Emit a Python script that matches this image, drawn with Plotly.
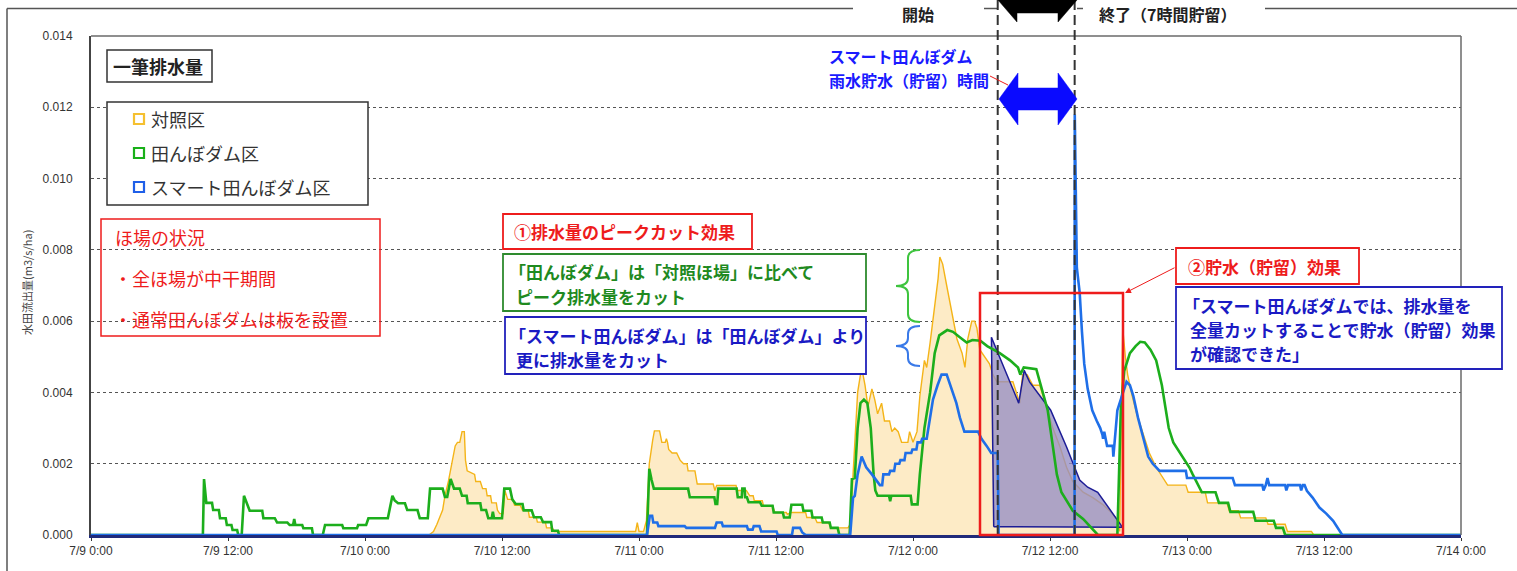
import plotly.graph_objects as go

# ---------------- data (hours from 7/9 0:00, discharge m3/s/ha) ----------------
x_tick_hours = [0, 12, 24, 36, 48, 60, 72, 84, 96, 108, 120]
x_tick_labels = ["7/9 0:00", "7/9 12:00", "7/10 0:00", "7/10 12:00", "7/11 0:00", "7/11 12:00",
                 "7/12 0:00", "7/12 12:00", "7/13 0:00", "7/13 12:00", "7/14 0:00"]
y_tick_vals = [0.000, 0.002, 0.004, 0.006, 0.008, 0.010, 0.012, 0.014]
y_tick_labels = ["0.000", "0.002", "0.004", "0.006", "0.008", "0.010", "0.012", "0.014"]

series_names = ["対照区", "田んぼダム区", "スマート田んぼダム区"]

control_points = [
    (0, 0), (29.6, 0), (30.0, 0.0001), (30.3, 0.0003), (30.8, 0.0007), (31.0, 0.0011), (31.3, 0.0015),
    (31.6, 0.002), (31.9, 0.0025), (32.1, 0.0026), (32.3, 0.0026), (32.5, 0.0029), (32.7, 0.0029),
    (32.8, 0.0021), (32.95, 0.0018), (33.6, 0.0017), (33.7, 0.0015), (34.1, 0.0015), (34.3, 0.0013),
    (34.6, 0.0013), (34.7, 0.0011), (35.0, 0.0011), (35.1, 0.0009), (35.5, 0.0009), (35.6, 0.0007),
    (35.8, 0.0006), (36.1, 0.0006), (36.25, 0.00125), (36.5, 0.001), (36.95, 0.001), (37.1, 0.00083),
    (37.6, 0.00083), (37.8, 0.00069), (38.3, 0.00069), (38.4, 0.0005), (39.0, 0.0005), (39.1, 0.00036),
    (39.8, 0.00036), (39.9, 0.0002), (40.4, 0.0002), (40.6, 0.0001), (47.7, 0.0001), (47.85, 0.00035),
    (48.0, 0.0001), (48.4, 0.0001), (48.65, 0.0004), (48.9, 0.002), (49.2, 0.00266), (49.35, 0.00292),
    (49.8, 0.00292), (50.0, 0.0026), (50.3, 0.0026), (50.4, 0.0027), (50.5, 0.0026), (50.6, 0.0024),
    (50.9, 0.0023), (51.3, 0.0023), (51.6, 0.0021), (51.9, 0.002), (52.2, 0.002), (52.3, 0.0018),
    (52.9, 0.0018), (53.1, 0.00143), (54.5, 0.00143), (54.65, 0.00125), (54.8, 0.00139), (56.5, 0.00139),
    (56.6, 0.00125), (57.4, 0.00125), (57.7, 0.0011), (58.0, 0.0011), (58.1, 0.00096), (58.8, 0.00096),
    (58.9, 0.00082), (59.7, 0.00082), (59.9, 0.00063), (60.9, 0.00063), (61.0, 0.00058), (61.3, 0.00063),
    (62.6, 0.00063), (62.7, 0.00049), (63.4, 0.00049), (63.6, 0.00035), (64.6, 0.00035), (64.8, 0.0002),
    (66.3, 0.0002), (66.5, 0.0003), (66.75, 0.0017), (67.15, 0.004), (67.5, 0.0047), (67.8, 0.0042),
    (68.05, 0.0036), (68.4, 0.0041), (68.65, 0.0038), (68.9, 0.0034), (69.25, 0.0037), (69.5, 0.0032),
    (69.95, 0.0032), (70.15, 0.0029), (70.4, 0.003), (70.7, 0.0029), (71.0, 0.0026), (71.55, 0.0026),
    (71.7, 0.0029), (72.0, 0.0026), (72.35, 0.0029), (72.6, 0.0039), (73.0, 0.0049), (73.2, 0.0047),
    (73.5, 0.0054), (73.9, 0.0064), (74.2, 0.0072), (74.35, 0.0078), (74.6, 0.0076), (74.95, 0.007),
    (75.4, 0.0063), (75.85, 0.0055), (76.3, 0.0051), (76.55, 0.0047), (76.8, 0.0055), (77.15, 0.006),
    (77.4, 0.006), (77.6, 0.0058), (77.85, 0.0052), (78.3, 0.005), (78.7, 0.0048), (79.0, 0.0045),
    (79.35, 0.0043), (80.75, 0.0043), (81.35, 0.0037), (81.6, 0.0045), (82.0, 0.0045), (82.5, 0.0042),
    (83.1, 0.0042), (83.7, 0.0036), (84.25, 0.003), (84.85, 0.0025), (85.45, 0.0019), (86.0, 0.0015),
    (86.9, 0.0012), (87.75, 0.00105), (88.6, 0.00086), (89.25, 0.00067), (89.85, 0.00044), (90.1, 0.0001),
    (90.37, 0.0058), (90.6, 0.005), (90.8, 0.0045), (91.2, 0.0039), (91.6, 0.0034), (92.1, 0.0029),
    (92.7, 0.0023), (93.3, 0.0019), (93.9, 0.0016), (94.3, 0.0014), (95.9, 0.0014), (96.1, 0.0012),
    (97.6, 0.0012), (97.8, 0.0009), (99.5, 0.0009), (99.7, 0.00068), (100.5, 0.00068), (100.7, 0.00048),
    (102.9, 0.00048), (103.1, 0.0003), (104.6, 0.0003), (104.8, 0.0001), (106.9, 0.0001), (107.1, 0),
    (120, 0)]

dam_points = [
    (0, 0), (9.8, 0), (9.9, 0.00157), (10.1, 0.0009), (10.6, 0.0009), (10.7, 0.0007), (11.2, 0.0007),
    (11.3, 0.00047), (11.8, 0.00047), (11.9, 0.00028), (12.3, 0.00028), (12.4, 0.00014), (12.8, 0.00014),
    (12.9, 0), (13.2, 0), (13.4, 0.0011), (13.7, 0.00085), (13.9, 0.00068), (15.0, 0.00068), (15.1, 0.00047),
    (16.1, 0.00047), (16.3, 0.00035), (17.2, 0.00035), (17.4, 0.00028), (17.7, 0.00028), (17.8, 0.00045),
    (17.9, 0.00028), (18.5, 0.00028), (18.6, 0.00019), (19.35, 0.00019), (19.45, 0), (20.3, 0),
    (20.5, 0.00028), (22.0, 0.00028), (22.1, 0.00019), (23.3, 0.00019), (23.4, 0.00028), (24.1, 0.00028),
    (24.3, 0.00047), (26.0, 0.00047), (26.4, 0.0011), (26.6, 0.00097), (26.9, 0.00089), (27.5, 0.00089),
    (27.7, 0.0007), (28.6, 0.0007), (28.8, 0.00047), (29.5, 0.00047), (29.7, 0.0013), (30.8, 0.0013),
    (31.0, 0.00107), (31.2, 0.00107), (31.5, 0.00157), (31.8, 0.0013), (32.3, 0.0013), (32.5, 0.0011),
    (32.9, 0.0011), (33.0, 0.00089), (34.1, 0.00089), (34.2, 0.0007), (34.6, 0.0007), (34.8, 0.00047),
    (35.1, 0.00047), (35.2, 0.00065), (35.3, 0.00047), (36.0, 0.00047), (36.2, 0.0013), (36.7, 0.0013),
    (36.9, 0.001), (37.2, 0.00087), (37.8, 0.00087), (37.9, 0.00069), (38.6, 0.00069), (38.8, 0.0005),
    (39.4, 0.0005), (39.6, 0.00036), (40.3, 0.00036), (40.4, 0.00012), (40.9, 0.00012), (41.0, 0),
    (48.7, 0), (48.9, 0.00186), (49.1, 0.00155), (49.3, 0.0013), (52.3, 0.0013), (52.45, 0.00106),
    (54.6, 0.00106), (54.7, 0.00087), (54.85, 0.00087), (54.95, 0.0013), (56.55, 0.0013), (56.65, 0.00106),
    (57.0, 0.00106), (57.05, 0.0013), (57.25, 0.0013), (57.3, 0.00106), (57.45, 0.00106), (57.6, 0.00092),
    (58.6, 0.00092), (58.75, 0.00082), (59.7, 0.00082), (59.8, 0.00063), (60.6, 0.00063), (60.7, 0.00049),
    (61.2, 0.00049), (61.35, 0.00085), (62.3, 0.00085), (62.4, 0.00068), (63.1, 0.00068), (63.2, 0.00049),
    (64.0, 0.00049), (64.1, 0.00035), (64.7, 0.00035), (64.8, 0.0002), (65.4, 0.0002), (65.55, 0),
    (66.45, 0), (66.65, 0.00157), (66.9, 0.0016), (67.15, 0.003), (67.4, 0.0037), (67.7, 0.0038),
    (68.0, 0.0037), (68.3, 0.003), (68.55, 0.0017), (68.7, 0.00125), (68.9, 0.0011), (69.9, 0.0011),
    (70.0, 0.00095), (70.1, 0.0011), (71.8, 0.0011), (71.9, 0.00086), (72.4, 0.00086), (72.6, 0.0017),
    (73.0, 0.003), (73.5, 0.004), (73.9, 0.0051), (74.3, 0.0056), (75.0, 0.00575), (75.5, 0.0057),
    (76.1, 0.00555), (76.7, 0.0054), (77.2, 0.00547), (77.9, 0.00545), (78.5, 0.0053), (79.3, 0.00517),
    (79.6, 0.0051), (80.5, 0.0049), (81.2, 0.0047), (81.4, 0.0045), (81.7, 0.0047), (82.8, 0.00465),
    (83.3, 0.0041), (83.8, 0.0035), (84.2, 0.0026), (84.6, 0.0017), (85.0, 0.0012), (85.6, 0.0009),
    (86.0, 0.00068), (86.9, 0.00045), (87.7, 0.00018), (88.2, 0), (89.9, 0), (90.2, 0.0035),
    (90.5, 0.0046), (91.0, 0.0051), (91.5, 0.0053), (91.9, 0.00542), (92.3, 0.0054), (92.8, 0.0052),
    (93.3, 0.0049), (93.8, 0.0042), (94.1, 0.0036), (94.4, 0.003), (94.8, 0.0026), (95.4, 0.0023),
    (95.8, 0.0021), (96.2, 0.0019), (96.5, 0.0017), (96.9, 0.00147), (97.3, 0.0012), (98.5, 0.0012),
    (98.8, 0.0009), (99.6, 0.0009), (99.8, 0.00065), (101.8, 0.00065), (102.0, 0.0004), (103.6, 0.0004),
    (103.8, 0.0002), (104.4, 0.0002), (104.6, 0), (120, 0)]

smart_points = [
    (0, 0), (48.7, 0), (48.95, 0.00054), (49.15, 0.00054), (49.25, 0.00035), (49.6, 0.00035),
    (49.7, 0.00025), (52.0, 0.00025), (52.15, 0.0002), (54.65, 0.0002), (54.8, 0.00035), (55.25, 0.00035),
    (55.35, 0.00025), (57.45, 0.00025), (57.55, 0.00015), (57.95, 0.00015), (58.05, 0.00025),
    (58.55, 0.00025), (58.7, 0.0001), (60.05, 0.0001), (60.15, 0), (61.4, 0), (61.5, 0.0002), (62.1, 0.0002),
    (62.3, 0.00007), (62.6, 0), (66.5, 0), (66.75, 0.00105), (66.9, 0.0011), (67.15, 0.0017), (67.5, 0.0022),
    (67.9, 0.0019), (68.4, 0.0017), (68.85, 0.0015), (69.1, 0.0014), (69.3, 0.0014), (69.4, 0.0017),
    (69.9, 0.0017), (70.0, 0.0018), (70.35, 0.0018), (70.45, 0.002), (70.8, 0.002), (70.9, 0.0021),
    (71.25, 0.0021), (71.35, 0.0023), (71.85, 0.0023), (71.95, 0.0024), (72.3, 0.0024), (72.4, 0.0026),
    (72.7, 0.0026), (72.8, 0.0027), (73.2, 0.0027), (73.35, 0.003), (73.75, 0.0038), (74.15, 0.0042),
    (74.5, 0.0045), (74.95, 0.0045), (75.4, 0.0041), (75.8, 0.0037), (76.1, 0.0033), (76.5, 0.0029),
    (77.7, 0.0029), (78.0, 0.0027), (78.45, 0.0025), (78.85, 0.0023), (79.42, 0.0023), (79.5, 0),
    (86.15, 0), (86.17, 0.0118), (86.35, 0.0075), (86.6, 0.0068), (86.8, 0.0057), (87.0, 0.0048),
    (87.3, 0.0041), (87.7, 0.0035), (88.1, 0.0032), (88.4, 0.003), (88.6, 0.0028), (88.65, 0.0027),
    (88.75, 0.0029), (88.85, 0.0027), (89.0, 0.0025), (89.5, 0.0025), (89.55, 0.0022), (89.9, 0.0035),
    (90.3, 0.0039), (90.7, 0.0043), (91.0, 0.0042), (91.3, 0.0039), (91.7, 0.0033), (92.1, 0.0028),
    (92.6, 0.0022), (93.0, 0.002), (93.6, 0.0018), (95.9, 0.0018), (96.0, 0.0016), (100.0, 0.0016),
    (100.2, 0.0014), (102.6, 0.0014), (102.7, 0.00125), (102.9, 0.0014), (103.05, 0.0016), (103.2, 0.0014),
    (104.6, 0.0014), (104.7, 0.00125), (104.85, 0.0014), (105.9, 0.0014), (106.0, 0.00125), (106.15, 0.0014),
    (106.3, 0.0014), (106.5, 0.00124), (107.0, 0.00105), (107.6, 0.00077), (108.2, 0.0006), (108.8, 0.0004),
    (109.4, 0.00011), (109.6, 0), (120, 0)]

# stored-water (retention) area of the smart paddy dam
storage_points = [
    (79.07, 0.00023), (78.87, 0.00555), (79.6, 0.00498), (81.26, 0.0037), (81.74, 0.00462),
    (82.22, 0.00429), (84.06, 0.0035), (85.46, 0.00246), (86.6, 0.00154), (87.3, 0.00134),
    (88.18, 0.0012), (90.34, 0.00022), (79.07, 0.00023)]

storage_start_h = 79.42
storage_end_h = 86.16

control_hours, control_vals = zip(*control_points)
dam_hours, dam_vals = zip(*dam_points)
smart_hours, smart_vals = zip(*smart_points)
storage_hours, storage_vals = zip(*storage_points)

# ---------------- layout helpers ----------------
W, H = 1517, 571
L, R, T, B = 91, 1461, 36, 535
X_MAX = 120.0


def px(X):
    return (X - L) / (R - L)


def py(Y):
    return (B - Y) / (B - T)


FONT_JP = "Noto Sans CJK JP"
FONT_NUM = "Liberation Sans"

C_CTRL_LINE = "#f4b418"
C_CTRL_FILL = "#fdebc6"
C_DAM = "#1cae1c"
C_SMART = "#1f6fe8"
C_RED = "#ee1c1c"
C_GREEN_TXT = "#1f8a1f"
C_BLUE_TXT = "#1a1ac4"

fig = go.Figure()

fig.add_trace(go.Scatter(x=control_hours, y=control_vals, mode="lines", line=dict(width=0, color=C_CTRL_LINE),
                         fill="tozeroy", fillcolor=C_CTRL_FILL, hoverinfo="skip", showlegend=False))
fig.add_trace(go.Scatter(x=control_hours, y=control_vals, mode="lines", name=series_names[0],
                         line=dict(width=1.4, color=C_CTRL_LINE)))
fig.add_trace(go.Scatter(x=storage_hours, y=storage_vals, mode="lines", fill="toself",
                         fillcolor="rgba(150,142,196,0.78)", line=dict(width=1.5, color="#1c1c96"),
                         hoverinfo="skip", showlegend=False))
fig.add_trace(go.Scatter(x=dam_hours, y=dam_vals, mode="lines", name=series_names[1],
                         line=dict(width=2.6, color=C_DAM)))
fig.add_trace(go.Scatter(x=smart_hours, y=smart_vals, mode="lines", name=series_names[2],
                         line=dict(width=2.6, color=C_SMART)))

shapes = []
annotations = []


def rect(X0, Y0, X1, Y1, color, width=1.5, fill="rgba(0,0,0,0)"):
    shapes.append(dict(type="rect", xref="paper", yref="paper", x0=px(X0), x1=px(X1), y0=py(Y1), y1=py(Y0),
                       line=dict(color=color, width=width), fillcolor=fill, layer="above"))


def line(X0, Y0, X1, Y1, color, width=1.5, dash="solid"):
    shapes.append(dict(type="line", xref="paper", yref="paper", x0=px(X0), x1=px(X1), y0=py(Y0), y1=py(Y1),
                       line=dict(color=color, width=width, dash=dash), layer="above"))


def poly(points, color):
    d = "M " + " L ".join(f"{px(X):.5f},{py(Y):.5f}" for X, Y in points) + " Z"
    shapes.append(dict(type="path", xref="paper", yref="paper", path=d, fillcolor=color,
                       line=dict(color=color, width=0.5), layer="above"))


def brace(Xtip, Xmid, Xend, Ytop, Ybot, color):
    Ym = (Ytop + Ybot) / 2
    r = 8
    P = lambda X, Y: f"{px(X):.5f},{py(Y):.5f}"
    d = (f"M {P(Xend, Ytop)} Q {P(Xmid, Ytop)} {P(Xmid, Ytop + r)} L {P(Xmid, Ym - r)} "
         f"Q {P(Xmid, Ym)} {P(Xtip, Ym)} Q {P(Xmid, Ym)} {P(Xmid, Ym + r)} L {P(Xmid, Ybot - r)} "
         f"Q {P(Xmid, Ybot)} {P(Xend, Ybot)}")
    shapes.append(dict(type="path", xref="paper", yref="paper", path=d, line=dict(color=color, width=2),
                       layer="above"))


def text(s, X, Y, size, color, bold=False, anchor="left", family=FONT_JP, angle=0):
    annotations.append(dict(text=f"<b>{s}</b>" if bold else s, x=px(X), y=py(Y), xref="paper", yref="paper",
                            xanchor=anchor, yanchor="middle", showarrow=False, textangle=angle,
                            font=dict(size=size, color=color, family=family)))


# plot frame (top/right) and outer frame
line(L, T, R, T, "#6a6a6a", 1.5)
line(R, T, R, B, "#6a6a6a", 1.5)
line(7, 8.5, 7, 575, "#555", 1.5)
line(7, 8.5, 853, 8.5, "#555", 1.5)
line(984, 8.5, 998, 8.5, "#555", 1.5)
line(1077, 8.5, 1083, 8.5, "#555", 1.5)
line(1265, 8.5, 1517, 8.5, "#555", 1.5)

# storage period dashed lines
for h in (storage_start_h, storage_end_h):
    shapes.append(dict(type="line", xref="paper", yref="paper", x0=h / X_MAX, x1=h / X_MAX, y0=0, y1=py(-2),
                       line=dict(color="#333", width=2, dash="10px,5px"), layer="above"))

# top black double arrow (mostly cut)
poly([(998, 0), (1017, 22), (1017, 13), (1058, 13), (1058, 22), (1077, 0), (1058, -22), (1058, -13),
      (1017, -13), (1017, -22)], "#000000")
# blue double arrow
poly([(999, 99), (1018, 73), (1018, 88), (1058, 88), (1058, 73), (1077, 99), (1058, 125), (1058, 110),
      (1018, 110), (1018, 125)], "#0a0aff")
line(990, 76, 1008, 85, C_RED, 1)

# boxes
rect(107, 50, 212, 82, "#333", 1.5, "white")
rect(107, 102, 368, 205, "#333", 1.5, "white")
rect(101, 219, 380, 336, C_RED, 1.5)
rect(503, 214, 752, 249, C_RED, 1.8, "white")
rect(503, 254, 866, 311, "#2e8b2e", 1.8, "white")
rect(505, 317, 866, 374, "#2222bb", 1.8, "white")
rect(1176, 248, 1359, 284, C_RED, 1.8, "white")
rect(1176, 287, 1502, 369, "#2222bb", 1.8, "white")
rect(980, 293, 1123, 535, C_RED, 2.5)

# legend squares
for (yc, col) in ((119, "#f5c030"), (153, "#19b019"), (187, "#1f5fe8")):
    rect(134, yc - 5, 144, yc + 5, col, 2.2, "white")

brace(896, 908, 920, 250, 322, "#3ec43e")
brace(896, 908, 920, 326, 366, "#3a7ae8")

# texts
text("一筆排水量", 111, 66, 18, "#222", bold=True)
for (yc, name) in zip((119, 153, 187), series_names):
    text(name, 149, yc, 18, "#333")
text("ほ場の状況", 113, 237, 18, C_RED)
text("・全ほ場が中干期間", 112, 278, 18, C_RED)
text("・通常田んぼダムは板を設置", 112, 319, 18, C_RED)
text("①排水量のピークカット効果", 512, 232, 17, C_RED, bold=True)
text("「田んぼダム」は「対照ほ場」に比べて", 507, 271, 17, C_GREEN_TXT, bold=True)
text("ピーク排水量をカット", 514, 296, 17, C_GREEN_TXT, bold=True)
text("「スマート田んぼダム」は「田んぼダム」より", 507, 336, 17, C_BLUE_TXT, bold=True)
text("更に排水量をカット", 514, 359, 17, C_BLUE_TXT, bold=True)
text("②貯水（貯留）効果", 1186, 266, 17, C_RED, bold=True)
text("「スマート田んぼダムでは、排水量を", 1181, 305, 17, C_BLUE_TXT, bold=True)
text("全量カットすることで貯水（貯留）効果", 1188, 329, 17, C_BLUE_TXT, bold=True)
text("が確認できた」", 1188, 353, 17, C_BLUE_TXT, bold=True)
text("スマート田んぼダム", 827, 56, 16, "#1a1aff", bold=True)
text("雨水貯水（貯留）時間", 827, 80, 16, "#1a1aff", bold=True)
text("開始", 900, 14, 16, "#222", bold=True)
text("終了（7時間貯留）", 1097, 14, 16, "#222", bold=True)
text("水田流出量(m3/s/ha)", 27, 283, 11, "#444", anchor="center", angle=-90)

# arrow from ② box to the red rectangle
annotations.append(dict(x=px(1125), y=py(293), xref="paper", yref="paper", ax=51, ay=-26, text="",
                        showarrow=True, arrowhead=2, arrowsize=1.2, arrowwidth=1, arrowcolor=C_RED))

fig.update_layout(
    width=W, height=H, autosize=False,
    margin=dict(l=L, r=W - R, t=T, b=H - B, pad=0),
    paper_bgcolor="white", plot_bgcolor="white",
    showlegend=False,
    shapes=shapes, annotations=annotations,
    xaxis=dict(range=[0, X_MAX], tickvals=x_tick_hours, ticktext=x_tick_labels, showgrid=False,
               zeroline=False, showline=True, linecolor="#202a7a", linewidth=2.5,
               ticks="outside", ticklen=3, tickcolor="#333",
               tickfont=dict(size=12, color="#333", family=FONT_NUM)),
    yaxis=dict(range=[0, 0.014], tickvals=y_tick_vals, ticktext=y_tick_labels, showgrid=True,
               gridcolor="#555", griddash="dot", gridwidth=1.3, zeroline=False, showline=True,
               linecolor="#444", linewidth=2, ticks="", ticklabelstandoff=14,
               tickfont=dict(size=12, color="#333", family=FONT_NUM)),
)

fig.write_html("out.html", config={"displayModeBar": False},
               post_script="document.body.style.margin='0';document.body.style.overflow='hidden';")
